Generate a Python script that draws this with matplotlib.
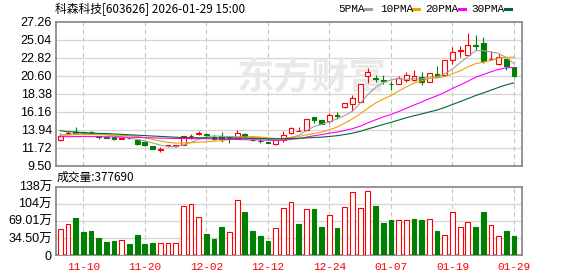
import matplotlib
matplotlib.use('Agg')
import matplotlib.pyplot as plt
from matplotlib.patches import Rectangle
from matplotlib.lines import Line2D
import numpy as np
import pandas as pd

# trading days shown on the chart
dates = ['11-05', '11-06', '11-07', '11-10', '11-11', '11-12', '11-13', '11-14',
         '11-17', '11-18', '11-19', '11-20', '11-21', '11-24', '11-25', '11-26',
         '11-27', '11-28', '12-01', '12-02', '12-03', '12-04', '12-05', '12-08',
         '12-09', '12-10', '12-11', '12-12', '12-15', '12-16', '12-17', '12-18',
         '12-19', '12-22', '12-23', '12-24', '12-25', '12-26', '12-29', '12-30',
         '12-31', '01-05', '01-06', '01-07', '01-08', '01-09', '01-12', '01-13',
         '01-14', '01-15', '01-16', '01-19', '01-20', '01-21', '01-22', '01-23',
         '01-26', '01-27', '01-28', '01-29']
label_dates = ['11-10', '11-20', '12-02', '12-12', '12-24', '01-07', '01-19', '01-29']

opens = [12.70, 13.44, 13.72, 13.68, 13.68, 13.15, 13.12, 13.03, 12.87, 12.97,
         12.70, 12.46, 11.96, 11.45, 11.92, 11.95, 12.09, 13.14, 13.50, 13.42,
         13.08, 13.16, 13.05, 13.00, 13.50, 12.75, 12.60, 12.40, 12.25, 12.66,
         13.53, 13.78, 13.90, 15.50, 15.13, 15.01, 15.78, 16.73, 17.15, 17.39,
         20.64, 20.30, 20.10, 19.65, 19.62, 20.12, 20.06, 20.45, 19.85, 20.85,
         20.70, 22.60, 23.70, 23.23, 24.42, 24.67, 22.68, 22.05, 22.70, 21.70]
highs = [13.53, 13.77, 14.27, 13.75, 13.86, 13.20, 13.15, 13.06, 13.05, 13.00,
         12.75, 12.62, 12.00, 11.80, 12.07, 12.10, 13.20, 13.45, 13.82, 13.61,
         13.30, 13.73, 13.20, 13.94, 13.60, 12.83, 12.83, 12.50, 12.83, 13.82,
         14.35, 14.30, 15.30, 15.55, 15.15, 16.04, 16.12, 17.25, 18.30, 19.65,
         21.59, 20.76, 20.68, 19.94, 20.60, 21.15, 21.30, 21.13, 21.00, 21.80,
         22.60, 24.13, 24.30, 25.90, 25.70, 25.37, 23.70, 23.30, 22.75, 21.75]
lows = [12.54, 13.40, 13.58, 13.50, 13.45, 12.87, 12.93, 12.70, 12.85, 12.85,
        12.09, 11.96, 11.55, 11.22, 11.88, 11.90, 12.05, 12.83, 13.32, 13.08,
        12.70, 12.50, 12.34, 12.96, 12.95, 12.58, 12.34, 12.28, 12.09, 12.50,
        13.40, 13.76, 13.85, 14.80, 14.70, 14.80, 15.34, 16.70, 16.32, 17.35,
        19.74, 19.86, 19.61, 18.91, 19.58, 19.86, 19.95, 19.50, 19.80, 20.35,
        20.60, 22.12, 22.90, 23.03, 23.85, 22.20, 22.60, 22.00, 21.30, 20.45]
closes = [13.24, 13.60, 13.62, 13.60, 13.62, 13.10, 12.97, 12.80, 13.00, 12.90,
          12.21, 12.05, 11.60, 11.62, 12.03, 12.06, 13.16, 13.18, 13.55, 13.38,
          12.83, 12.85, 13.00, 13.53, 13.10, 12.68, 12.56, 12.33, 12.66, 13.32,
          14.23, 13.82, 15.25, 15.20, 14.72, 15.75, 15.72, 17.23, 17.89, 19.61,
          21.09, 20.25, 20.03, 19.58, 20.40, 20.72, 20.58, 19.85, 20.93, 20.45,
          22.55, 23.56, 23.75, 24.46, 24.35, 22.50, 22.72, 22.90, 21.87, 20.60]

# volume in units of 10k shares (万)
volumes = [51.8, 62.6, 74.7, 46.4, 48.5, 34.3, 26.2, 28.3, 29.6, 22.2,
           40.4, 22.2, 24.2, 23.6, 23.6, 23.6, 98.2, 102.3, 76.0, 42.4,
           32.3, 56.5, 45.8, 110.4, 86.8, 48.5, 38.4, 28.3, 53.8, 94.2,
           106.3, 62.6, 92.2, 92.9, 56.5, 80.1, 54.5, 96.2, 126.5, 94.2,
           128.5, 98.9, 64.6, 70.7, 70.0, 70.0, 72.7, 70.7, 72.0, 48.5,
           39.7, 86.1, 55.9, 65.9, 56.5, 86.8, 59.9, 37.7, 48.5, 37.769]
vol_up = 'rrggggggrggggrrrrrrgggrrggggrrrgrggrgrrrrgggrrggrgrrrrggrrgg'

# moving average values before each window is full
ma5_head = [13.30, 13.36, 13.44, 13.50]
ma10_head = [13.30, 13.34, 13.37, 13.38, 13.38, 13.37, 13.34, 13.31, 13.28]
ma20_head = [13.12, 13.12, 13.13, 13.13, 13.13, 13.12, 13.10, 13.08, 13.06, 13.05,
             13.03, 13.00, 12.97, 12.94, 12.92, 12.90, 12.90, 12.88, 12.87]
ma30_head = [13.86, 13.72, 13.70, 13.60, 13.55, 13.52, 13.50, 13.45, 13.40, 13.35,
             13.30, 13.25, 13.20, 13.15, 13.10, 13.05, 13.00, 13.00, 12.98, 12.97,
             12.96, 12.95, 12.95, 12.94, 12.93, 12.90, 12.88, 12.85, 12.85]

price_ticks = [9.50, 11.72, 13.94, 16.16, 18.38, 20.60, 22.82, 25.04, 27.26]
vol_ticks = [0, 34.50, 69.01, 103.5, 138.02]
vol_labels = ['0', '34.50万', '69.01万', '104万', '138万']

RED = '#ff0000'
GREEN = '#008000'
GRID = '#d6d6d6'
FRAME = '#8c8c8c'
MA_COLORS = ['#a0a0a0', '#f0a000', '#ff00ff', '#006633']
SANS = ['Liberation Sans', 'Noto Sans CJK SC']
CJK = ['Noto Sans CJK SC', 'DejaVu Sans']
MONO = 'Liberation Mono'


def moving_average(head, n):
    ma = pd.Series(closes).rolling(n).mean().to_numpy()
    ma[:n - 1] = head
    return ma


W, H = 578, 276
fig = plt.figure(figsize=(W / 100, H / 100), dpi=100)
fig.patch.set_facecolor('white')

x = np.arange(len(dates))
xlim = (-0.55, 60.04)
label_pos = [dates.index(d) for d in label_dates]

ax = fig.add_axes([56 / W, 1 - 166 / H, 466 / W, 144 / H])
ax2 = fig.add_axes([56 / W, 1 - 255 / H, 466 / W, 68.5 / H])

for a in (ax, ax2):
    a.set_xlim(*xlim)
    for s in a.spines.values():
        s.set_color(FRAME)
        s.set_linewidth(1.3)
    a.tick_params(length=0, pad=3)
    for p in label_pos:
        a.axvline(p, color='#c4c4c4', lw=0.8, ls=(0, (4, 3)), zorder=0)

# price panel
ax.set_ylim(price_ticks[0], price_ticks[-1])
ax.set_yticks(price_ticks)
ax.set_yticklabels(['%.2f' % t for t in price_ticks], family=SANS, fontsize=9)
ax.set_xticks([])
for t in price_ticks[1:-1]:
    ax.axhline(t, color=GRID, lw=0.9, zorder=0)

# watermark
ax.text(0.548, 0.61, '东方财富', transform=ax.transAxes, ha='center', va='center',
        family=CJK, fontsize=27, fontweight='bold', color='#e9e9e9', zorder=0.5)

bw = 0.62
for i in range(len(dates)):
    o, h, l, c = opens[i], highs[i], lows[i], closes[i]
    up = c >= o
    col = RED if up else GREEN
    ax.vlines(i, l, h, color=col, lw=0.8, zorder=3)
    bottom = min(o, c)
    height = max(abs(c - o), 0.02)
    ax.add_patch(Rectangle((i - bw / 2, bottom), bw, height,
                           facecolor='white' if up else col, edgecolor=col,
                           lw=0.8, zorder=4))

for head, n, colr in zip([ma5_head, ma10_head, ma20_head, ma30_head],
                         [5, 10, 20, 30], MA_COLORS):
    ax.plot(x, moving_average(head, n), color=colr, lw=0.8, zorder=5)

# volume panel
ax2.set_ylim(vol_ticks[0], vol_ticks[-1])
ax2.set_yticks(vol_ticks)
ax2.set_yticklabels(vol_labels, family=SANS, fontsize=9)
for t in vol_ticks[1:-1]:
    ax2.axhline(t, color=GRID, lw=0.9, zorder=0)
for i in range(len(dates)):
    up = vol_up[i] == 'r'
    col = RED if up else GREEN
    ax2.add_patch(Rectangle((i - bw / 2, 0), bw, volumes[i],
                            facecolor='white' if up else col, edgecolor=col,
                            lw=0.8, zorder=3))
ax2.set_xticks(label_pos)
ax2.set_xticklabels(label_dates, family=MONO, fontsize=8, color=RED)
ax2.tick_params(axis='x', pad=5)

# header texts
fig.text(55 / W, 1 - 9 / H, '科森科技[603626] 2026-01-29 15:00', family=CJK,
         fontsize=8.5, va='center', ha='left')
fig.text(57 / W, 1 - 177 / H, '成交量:377690', family=CJK, fontsize=8.5,
         va='center', ha='left')

legend_items = [('5PMA', 338.7, 365.3), ('10PMA', 380.3, 413.0),
                ('20PMA', 425.3, 459.3), ('30PMA', 471.3, 505.3)]
for (name, tx, dx), colr in zip(legend_items, MA_COLORS):
    fig.text(tx / W, 1 - 9 / H, name, family=MONO, fontsize=8, va='center', ha='left')
    fig.add_artist(Line2D([dx / W, (dx + 6) / W], [1 - 9 / H, 1 - 9 / H],
                          color=colr, lw=2.2, transform=fig.transFigure))

fig.savefig('out.png', dpi=100)
